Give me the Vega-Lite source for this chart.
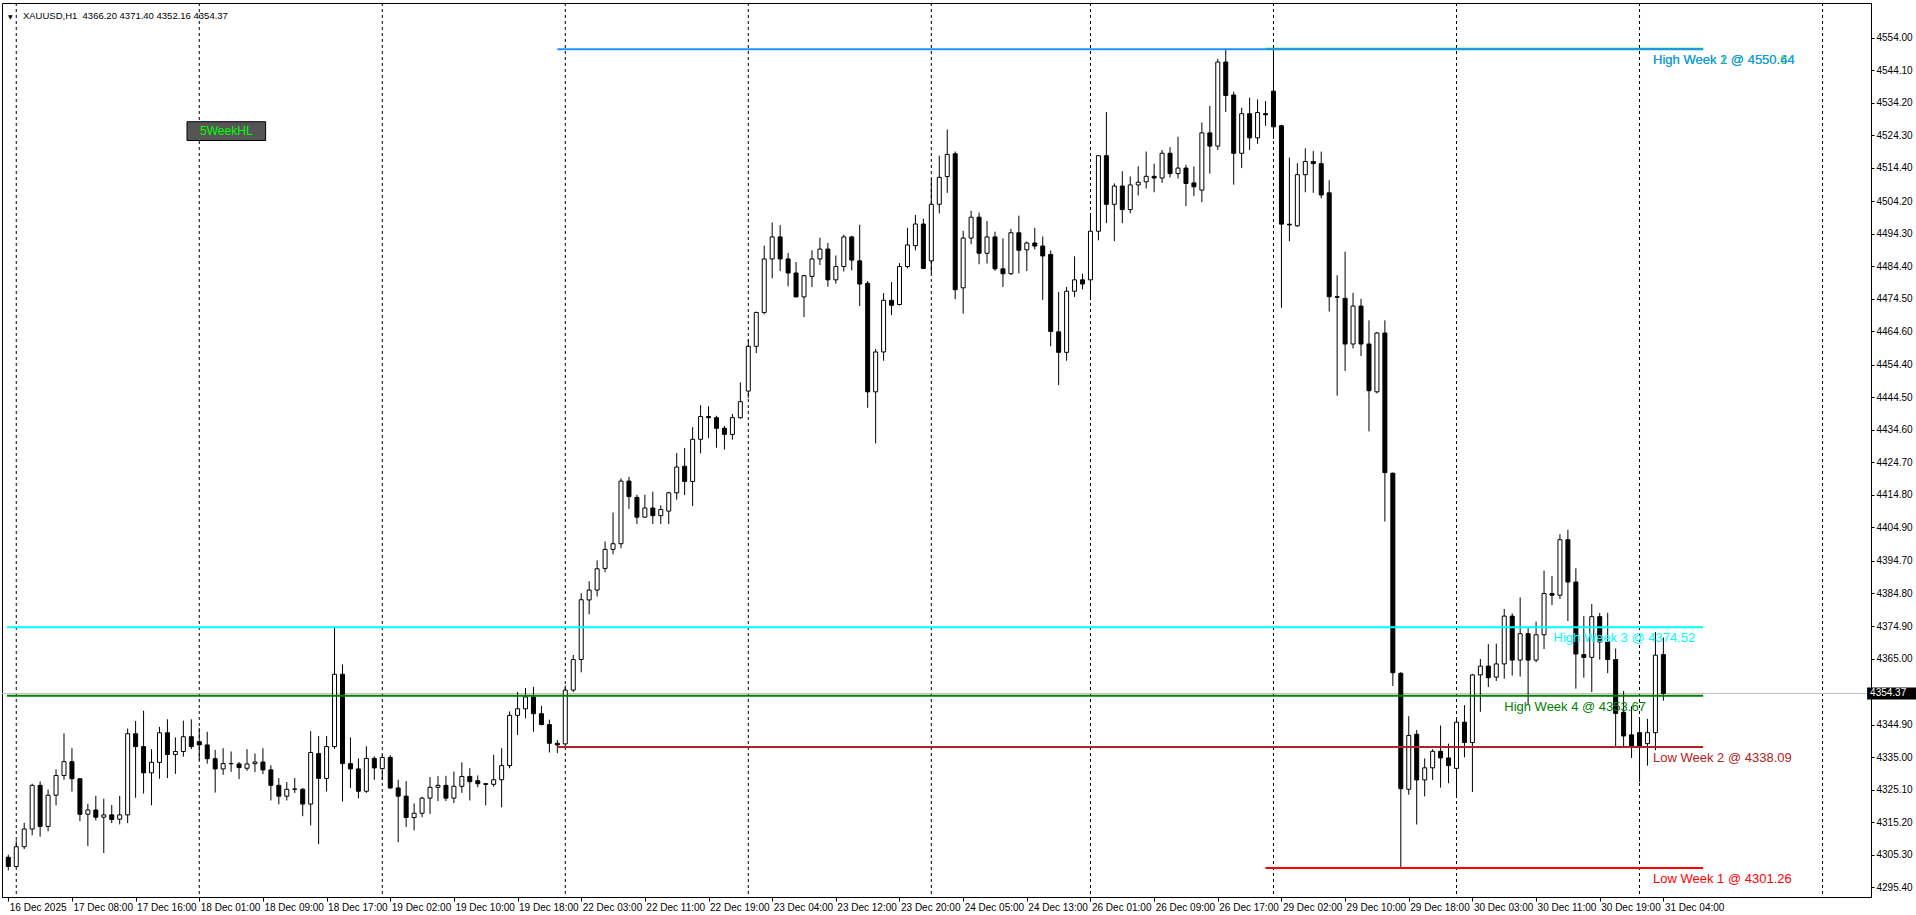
{
  "$schema": "https://vega.github.io/schema/vega-lite/v6.json",
  "width": 1869,
  "height": 894,
  "autosize": {"type": "none"},
  "padding": {"left": 2, "top": 3, "right": 45, "bottom": 18},
  "background": "white",
  "config": {
    "view": {"stroke": "black", "strokeWidth": 1},
    "axis": {
      "domainColor": "black",
      "tickColor": "black",
      "labelColor": "black",
      "labelFont": "Liberation Sans",
      "labelFontSize": 10,
      "grid": false,
      "title": null,
      "labelOverlap": false,
      "labelFlush": false,
      "labelBound": false
    }
  },
  "datasets": {
    "candles": [
      {"i":0,"o":4304.5,"h":4305.3,"l":4300.5,"c":4301.7},
      {"i":1,"o":4301.7,"h":4309.7,"l":4301.5,"c":4307.7},
      {"i":2,"o":4307.7,"h":4315.0,"l":4307.0,"c":4313.1},
      {"i":3,"o":4313.1,"h":4326.9,"l":4311.2,"c":4326.4},
      {"i":4,"o":4326.4,"h":4327.6,"l":4310.8,"c":4313.9},
      {"i":5,"o":4313.9,"h":4325.1,"l":4312.4,"c":4323.4},
      {"i":6,"o":4323.4,"h":4331.3,"l":4320.3,"c":4329.4},
      {"i":7,"o":4329.4,"h":4342.2,"l":4328.1,"c":4333.6},
      {"i":8,"o":4333.6,"h":4337.7,"l":4324.5,"c":4328.4},
      {"i":9,"o":4328.4,"h":4328.5,"l":4315.5,"c":4317.6},
      {"i":10,"o":4317.6,"h":4320.8,"l":4307.9,"c":4318.9},
      {"i":11,"o":4318.9,"h":4323.2,"l":4315.7,"c":4316.7},
      {"i":12,"o":4316.7,"h":4322.3,"l":4305.8,"c":4317.4},
      {"i":13,"o":4317.4,"h":4320.4,"l":4314.9,"c":4316.0},
      {"i":14,"o":4316.1,"h":4323.2,"l":4314.5,"c":4317.4},
      {"i":15,"o":4317.4,"h":4343.7,"l":4314.9,"c":4342.1},
      {"i":16,"o":4342.1,"h":4346.0,"l":4322.6,"c":4338.2},
      {"i":17,"o":4338.2,"h":4349.1,"l":4323.9,"c":4330.2},
      {"i":18,"o":4330.2,"h":4337.4,"l":4320.3,"c":4333.4},
      {"i":19,"o":4333.4,"h":4344.2,"l":4328.4,"c":4342.4},
      {"i":20,"o":4342.4,"h":4346.5,"l":4328.6,"c":4335.8},
      {"i":21,"o":4335.8,"h":4341.0,"l":4329.9,"c":4336.7},
      {"i":22,"o":4336.7,"h":4346.1,"l":4335.1,"c":4341.2},
      {"i":23,"o":4341.2,"h":4346.5,"l":4337.4,"c":4338.2},
      {"i":24,"o":4339.7,"h":4343.9,"l":4334.1,"c":4338.7},
      {"i":25,"o":4338.7,"h":4342.7,"l":4333.0,"c":4334.5},
      {"i":26,"o":4334.5,"h":4337.2,"l":4324.2,"c":4331.4},
      {"i":27,"o":4331.4,"h":4337.7,"l":4329.6,"c":4333.0},
      {"i":28,"o":4333.0,"h":4336.7,"l":4330.5,"c":4333.0},
      {"i":29,"o":4332.9,"h":4333.5,"l":4328.3,"c":4331.8},
      {"i":30,"o":4331.6,"h":4337.4,"l":4330.8,"c":4332.9},
      {"i":31,"o":4333.0,"h":4336.1,"l":4330.4,"c":4333.5},
      {"i":32,"o":4333.5,"h":4337.7,"l":4329.8,"c":4331.1},
      {"i":33,"o":4331.1,"h":4332.5,"l":4321.8,"c":4326.4},
      {"i":34,"o":4326.4,"h":4328.6,"l":4320.6,"c":4323.1},
      {"i":35,"o":4323.1,"h":4327.4,"l":4321.8,"c":4325.2},
      {"i":36,"o":4325.2,"h":4328.6,"l":4324.1,"c":4325.3},
      {"i":37,"o":4325.2,"h":4325.6,"l":4317.0,"c":4320.7},
      {"i":38,"o":4320.7,"h":4342.9,"l":4314.2,"c":4336.4},
      {"i":39,"o":4336.1,"h":4341.4,"l":4308.5,"c":4328.5},
      {"i":40,"o":4328.5,"h":4341.4,"l":4324.5,"c":4338.2},
      {"i":41,"o":4338.2,"h":4374.52,"l":4337.5,"c":4360.2},
      {"i":42,"o":4360.2,"h":4363.2,"l":4321.5,"c":4333.0},
      {"i":43,"o":4333.0,"h":4341.0,"l":4325.6,"c":4331.4},
      {"i":44,"o":4331.4,"h":4334.6,"l":4322.4,"c":4324.6},
      {"i":45,"o":4324.6,"h":4338.3,"l":4324.1,"c":4334.6},
      {"i":46,"o":4334.6,"h":4335.2,"l":4328.1,"c":4331.7},
      {"i":47,"o":4331.5,"h":4335.7,"l":4328.1,"c":4334.9},
      {"i":48,"o":4334.9,"h":4335.6,"l":4325.3,"c":4325.6},
      {"i":49,"o":4325.6,"h":4328.1,"l":4309.1,"c":4323.1},
      {"i":50,"o":4323.1,"h":4327.7,"l":4313.7,"c":4316.6},
      {"i":51,"o":4316.6,"h":4320.9,"l":4312.7,"c":4317.9},
      {"i":52,"o":4317.9,"h":4322.9,"l":4316.7,"c":4322.5},
      {"i":53,"o":4322.5,"h":4328.9,"l":4317.7,"c":4325.8},
      {"i":54,"o":4325.8,"h":4329.2,"l":4321.6,"c":4326.4},
      {"i":55,"o":4326.4,"h":4329.3,"l":4321.6,"c":4322.5},
      {"i":56,"o":4322.5,"h":4330.6,"l":4321.0,"c":4326.1},
      {"i":57,"o":4326.1,"h":4333.4,"l":4324.1,"c":4329.1},
      {"i":58,"o":4329.1,"h":4331.6,"l":4321.8,"c":4327.5},
      {"i":59,"o":4327.8,"h":4329.4,"l":4325.8,"c":4326.9},
      {"i":60,"o":4326.9,"h":4327.0,"l":4320.3,"c":4326.7},
      {"i":61,"o":4326.7,"h":4335.7,"l":4326.0,"c":4328.1},
      {"i":62,"o":4328.1,"h":4337.7,"l":4319.7,"c":4332.4},
      {"i":63,"o":4332.4,"h":4348.9,"l":4331.6,"c":4347.7},
      {"i":64,"o":4347.7,"h":4354.8,"l":4341.7,"c":4349.7},
      {"i":65,"o":4349.7,"h":4356.0,"l":4346.8,"c":4353.3},
      {"i":66,"o":4353.3,"h":4356.4,"l":4342.7,"c":4348.2},
      {"i":67,"o":4348.2,"h":4350.6,"l":4344.7,"c":4344.9},
      {"i":68,"o":4344.9,"h":4346.4,"l":4336.4,"c":4339.2},
      {"i":69,"o":4339.2,"h":4340.2,"l":4336.2,"c":4338.7},
      {"i":70,"o":4339.0,"h":4356.8,"l":4338.09,"c":4355.4},
      {"i":71,"o":4355.4,"h":4366.1,"l":4354.8,"c":4364.7},
      {"i":72,"o":4364.7,"h":4384.9,"l":4360.8,"c":4382.9},
      {"i":73,"o":4382.85,"h":4388.51,"l":4378.45,"c":4385.85},
      {"i":74,"o":4385.85,"h":4394.87,"l":4383.89,"c":4392.32},
      {"i":75,"o":4392.44,"h":4400.65,"l":4391.28,"c":4398.22},
      {"i":76,"o":4398.22,"h":4409.43,"l":4396.72,"c":4399.95},
      {"i":77,"o":4399.95,"h":4419.83,"l":4398.57,"c":4419.02},
      {"i":78,"o":4419.02,"h":4420.29,"l":4410.58,"c":4414.28},
      {"i":79,"o":4414.05,"h":4414.86,"l":4405.96,"c":4408.04},
      {"i":80,"o":4408.04,"h":4414.86,"l":4407.81,"c":4410.82},
      {"i":81,"o":4410.82,"h":4415.79,"l":4405.96,"c":4408.5},
      {"i":82,"o":4408.5,"h":4411.63,"l":4405.96,"c":4410.35},
      {"i":83,"o":4409.89,"h":4415.79,"l":4405.96,"c":4415.44},
      {"i":84,"o":4415.44,"h":4427.58,"l":4413.36,"c":4423.3},
      {"i":85,"o":4423.53,"h":4429.08,"l":4414.75,"c":4418.91},
      {"i":86,"o":4418.91,"h":4435.43,"l":4411.39,"c":4431.74},
      {"i":87,"o":4431.74,"h":4442.14,"l":4427.46,"c":4438.67},
      {"i":88,"o":4438.67,"h":4441.79,"l":4432.08,"c":4438.32},
      {"i":89,"o":4438.32,"h":4438.9,"l":4429.19,"c":4435.09},
      {"i":90,"o":4435.09,"h":4435.78,"l":4428.62,"c":4433.24},
      {"i":91,"o":4433.24,"h":4439.48,"l":4431.62,"c":4438.32},
      {"i":92,"o":4438.32,"h":4449.07,"l":4438.0,"c":4443.18},
      {"i":93,"o":4446.41,"h":4462.02,"l":4444.33,"c":4460.05},
      {"i":94,"o":4460.05,"h":4470.6,"l":4457.97,"c":4470.34},
      {"i":95,"o":4470.34,"h":4490.68,"l":4469.76,"c":4486.64},
      {"i":96,"o":4486.64,"h":4497.73,"l":4480.74,"c":4493.34},
      {"i":97,"o":4493.34,"h":4496.92,"l":4482.94,"c":4486.64},
      {"i":98,"o":4486.64,"h":4488.49,"l":4478.31,"c":4482.36},
      {"i":99,"o":4482.36,"h":4485.71,"l":4474.96,"c":4475.08},
      {"i":100,"o":4475.08,"h":4481.8,"l":4468.95,"c":4481.55},
      {"i":101,"o":4481.32,"h":4489.29,"l":4478.08,"c":4486.64},
      {"i":102,"o":4486.64,"h":4493.11,"l":4484.79,"c":4489.64},
      {"i":103,"o":4489.64,"h":4491.49,"l":4478.2,"c":4480.28},
      {"i":104,"o":4480.28,"h":4487.68,"l":4479.12,"c":4484.33},
      {"i":105,"o":4484.33,"h":4494.03,"l":4482.82,"c":4493.34},
      {"i":106,"o":4493.34,"h":4493.69,"l":4483.17,"c":4486.29},
      {"i":107,"o":4486.06,"h":4497.04,"l":4472.3,"c":4479.01},
      {"i":108,"o":4479.24,"h":4479.93,"l":4441.33,"c":4446.18},
      {"i":109,"o":4446.18,"h":4459.24,"l":4430.47,"c":4458.32},
      {"i":110,"o":4458.32,"h":4476.23,"l":4455.66,"c":4474.04},
      {"i":111,"o":4474.04,"h":4479.59,"l":4469.53,"c":4472.54},
      {"i":112,"o":4472.77,"h":4485.37,"l":4472.5,"c":4484.33},
      {"i":113,"o":4484.33,"h":4496.11,"l":4483.75,"c":4490.91},
      {"i":114,"o":4490.68,"h":4500.04,"l":4489.29,"c":4497.27},
      {"i":115,"o":4497.27,"h":4498.89,"l":4483.52,"c":4483.75},
      {"i":116,"o":4486.06,"h":4510.91,"l":4482.25,"c":4503.28},
      {"i":117,"o":4503.28,"h":4518.07,"l":4500.51,"c":4511.49},
      {"i":118,"o":4511.72,"h":4526.05,"l":4506.75,"c":4518.42},
      {"i":119,"o":4518.65,"h":4519.35,"l":4474.39,"c":4477.28},
      {"i":120,"o":4477.85,"h":4495.19,"l":4469.99,"c":4492.99},
      {"i":121,"o":4492.99,"h":4501.32,"l":4491.14,"c":4499.35},
      {"i":122,"o":4499.35,"h":4500.74,"l":4485.02,"c":4488.37},
      {"i":123,"o":4488.37,"h":4498.19,"l":4485.25,"c":4493.34},
      {"i":124,"o":4493.34,"h":4494.96,"l":4483.05,"c":4483.63},
      {"i":125,"o":4483.63,"h":4492.88,"l":4478.08,"c":4482.13},
      {"i":126,"o":4482.13,"h":4495.77,"l":4481.78,"c":4494.61},
      {"i":127,"o":4494.61,"h":4499.81,"l":4482.25,"c":4489.29},
      {"i":128,"o":4489.41,"h":4491.95,"l":4482.94,"c":4491.49},
      {"i":129,"o":4491.49,"h":4496.11,"l":4489.53,"c":4490.57},
      {"i":130,"o":4490.57,"h":4493.46,"l":4474.15,"c":4487.56},
      {"i":131,"o":4488.02,"h":4489.18,"l":4460.05,"c":4464.56},
      {"i":132,"o":4464.45,"h":4476.58,"l":4448.26,"c":4458.2},
      {"i":133,"o":4458.2,"h":4478.08,"l":4455.66,"c":4476.81},
      {"i":134,"o":4476.81,"h":4487.45,"l":4475.08,"c":4480.28},
      {"i":135,"o":4480.28,"h":4482.13,"l":4477.39,"c":4479.01},
      {"i":136,"o":4480.28,"h":4500.39,"l":4474.15,"c":4495.07},
      {"i":137,"o":4495.07,"h":4518.2,"l":4492.3,"c":4518.07},
      {"i":138,"o":4518.07,"h":4531.37,"l":4497.5,"c":4503.28},
      {"i":139,"o":4503.28,"h":4509.64,"l":4492.07,"c":4508.83},
      {"i":140,"o":4508.83,"h":4513.34,"l":4497.5,"c":4501.66},
      {"i":141,"o":4501.66,"h":4511.72,"l":4500.51,"c":4509.17},
      {"i":142,"o":4509.17,"h":4514.84,"l":4505.94,"c":4509.98},
      {"i":143,"o":4510.11,"h":4519.32,"l":4508.1,"c":4511.79},
      {"i":144,"o":4511.79,"h":4515.64,"l":4506.93,"c":4511.28},
      {"i":145,"o":4511.28,"h":4519.82,"l":4509.78,"c":4518.81},
      {"i":146,"o":4518.81,"h":4520.66,"l":4511.45,"c":4512.62},
      {"i":147,"o":4512.62,"h":4523.83,"l":4511.12,"c":4514.3},
      {"i":148,"o":4514.3,"h":4515.3,"l":4502.75,"c":4509.61},
      {"i":149,"o":4509.78,"h":4514.8,"l":4505.76,"c":4508.61},
      {"i":150,"o":4507.6,"h":4528.19,"l":4503.92,"c":4525.01},
      {"i":151,"o":4525.01,"h":4533.21,"l":4512.62,"c":4520.99},
      {"i":152,"o":4520.99,"h":4547.6,"l":4519.82,"c":4546.59},
      {"i":153,"o":4546.59,"h":4550.44,"l":4531.36,"c":4536.39},
      {"i":154,"o":4536.55,"h":4537.56,"l":4509.28,"c":4518.81},
      {"i":155,"o":4518.81,"h":4532.7,"l":4514.3,"c":4530.86},
      {"i":156,"o":4530.86,"h":4535.72,"l":4519.82,"c":4523.5},
      {"i":157,"o":4523.5,"h":4535.21,"l":4521.66,"c":4531.2},
      {"i":158,"o":4530.86,"h":4534.71,"l":4527.18,"c":4530.53},
      {"i":159,"o":4537.72,"h":4550.64,"l":4523.17,"c":4526.85},
      {"i":160,"o":4527.18,"h":4527.5,"l":4471.79,"c":4497.23},
      {"i":161,"o":4497.23,"h":4517.48,"l":4492.04,"c":4497.0},
      {"i":162,"o":4496.73,"h":4515.8,"l":4496.39,"c":4512.29},
      {"i":163,"o":4512.29,"h":4520.32,"l":4506.93,"c":4516.3},
      {"i":164,"o":4516.3,"h":4519.48,"l":4506.77,"c":4515.64},
      {"i":165,"o":4515.64,"h":4519.32,"l":4505.09,"c":4506.1},
      {"i":166,"o":4506.77,"h":4510.61,"l":4470.62,"c":4475.14},
      {"i":167,"o":4475.14,"h":4481.66,"l":4445.02,"c":4474.97},
      {"i":168,"o":4474.64,"h":4488.86,"l":4452.55,"c":4460.75},
      {"i":169,"o":4460.75,"h":4476.31,"l":4459.41,"c":4472.29},
      {"i":170,"o":4472.29,"h":4474.47,"l":4457.07,"c":4460.75},
      {"i":171,"o":4460.75,"h":4467.94,"l":4434.14,"c":4446.52},
      {"i":172,"o":4446.19,"h":4464.43,"l":4445.69,"c":4464.09},
      {"i":173,"o":4464.09,"h":4467.94,"l":4406.7,"c":4421.59},
      {"i":174,"o":4421.42,"h":4421.6,"l":4356.66,"c":4360.68},
      {"i":175,"o":4360.51,"h":4360.85,"l":4301.26,"c":4325.37},
      {"i":176,"o":4325.2,"h":4347.46,"l":4323.53,"c":4341.6},
      {"i":177,"o":4341.94,"h":4343.27,"l":4314.49,"c":4328.05},
      {"i":178,"o":4328.05,"h":4334.57,"l":4323.03,"c":4331.73},
      {"i":179,"o":4331.73,"h":4337.42,"l":4328.05,"c":4336.75},
      {"i":180,"o":4336.75,"h":4344.62,"l":4325.7,"c":4334.74},
      {"i":181,"o":4334.74,"h":4339.09,"l":4327.04,"c":4332.4},
      {"i":182,"o":4331.56,"h":4346.79,"l":4323.03,"c":4345.62},
      {"i":183,"o":4345.62,"h":4350.81,"l":4334.91,"c":4339.43},
      {"i":184,"o":4339.43,"h":4360.34,"l":4324.37,"c":4360.01},
      {"i":185,"o":4360.01,"h":4364.86,"l":4348.8,"c":4362.69},
      {"i":186,"o":4362.69,"h":4369.38,"l":4356.33,"c":4359.17},
      {"i":187,"o":4359.34,"h":4369.55,"l":4358.17,"c":4363.36},
      {"i":188,"o":4363.36,"h":4380.09,"l":4358.84,"c":4377.91},
      {"i":189,"o":4377.91,"h":4378.75,"l":4359.84,"c":4364.53},
      {"i":190,"o":4364.53,"h":4383.6,"l":4359.51,"c":4372.56},
      {"i":191,"o":4372.56,"h":4374.23,"l":4350.81,"c":4364.53},
      {"i":192,"o":4364.53,"h":4376.24,"l":4363.86,"c":4372.23},
      {"i":193,"o":4372.23,"h":4391.8,"l":4367.87,"c":4384.78},
      {"i":194,"o":4384.78,"h":4390.13,"l":4381.26,"c":4384.27},
      {"i":195,"o":4384.27,"h":4402.85,"l":4383.1,"c":4401.17},
      {"i":196,"o":4401.17,"h":4404.19,"l":4376.41,"c":4388.29},
      {"i":197,"o":4388.29,"h":4392.47,"l":4355.83,"c":4366.37},
      {"i":198,"o":4366.2,"h":4377.91,"l":4359.17,"c":4365.36},
      {"i":199,"o":4365.36,"h":4381.6,"l":4354.82,"c":4377.75},
      {"i":200,"o":4377.75,"h":4378.92,"l":4364.69,"c":4370.05},
      {"i":201,"o":4370.05,"h":4378.92,"l":4360.51,"c":4364.69},
      {"i":202,"o":4364.69,"h":4368.04,"l":4338.25,"c":4348.3},
      {"i":203,"o":4348.63,"h":4355.16,"l":4338.25,"c":4341.43},
      {"i":204,"o":4341.77,"h":4350.47,"l":4334.74,"c":4338.25},
      {"i":205,"o":4342.44,"h":4346.45,"l":4327.38,"c":4338.25},
      {"i":206,"o":4339.09,"h":4346.62,"l":4332.4,"c":4342.44},
      {"i":207,"o":4342.44,"h":4373.06,"l":4337.08,"c":4366.03},
      {"i":208,"o":4366.2,"h":4371.4,"l":4352.16,"c":4354.37}
    ],
    "days": [{"i":1},{"i":24},{"i":47},{"i":70},{"i":93},{"i":116},{"i":136},{"i":159},{"i":182},{"i":205},{"i":228}],
    "levels": [
      {"name":"High Week 4","price":4353.67,"x1":-0.16,"x2":213,"lx":188,"label":"High Week 4 @ 4353.67"},
      {"name":"High Week 3","price":4374.52,"x1":-0.16,"x2":213,"lx":194.2,"label":"High Week 3 @ 4374.52"},
      {"name":"Low Week 2","price":4338.09,"x1":69,"x2":213,"lx":206.7,"label":"Low Week 2 @ 4338.09"},
      {"name":"Low Week 1","price":4301.26,"x1":158,"x2":213,"lx":206.7,"label":"Low Week 1 @ 4301.26"},
      {"name":"High Week 1","price":4550.64,"x1":158,"x2":213,"lx":206.7,"label":"High Week 1 @ 4550.64"},
      {"name":"High Week 2","price":4550.44,"x1":69,"x2":213,"lx":206.7,"label":"High Week 2 @ 4550.44"}
    ],
    "quote": [{"symbol":"XAUUSD","period":"H1","o":4366.2,"h":4371.4,"l":4352.16,"c":4354.37,"header":"XAUUSD,H1\u00a0\u00a04366.20 4371.40 4352.16 4354.37"}],
    "buttons": [{"label":"5WeekHL"}]
  },
  "layer": [
    {
      "data": {"name": "days"},
      "mark": {"type": "rule", "color": "black", "strokeWidth": 1, "strokeDash": [3, 3]},
      "encoding": {
        "x": {
          "field": "i", "type": "quantitative",
          "scale": {"domain": [-0.1625, 233.4625], "nice": false, "zero": false},
          "axis": {
            "orient": "bottom",
            "values": [0,8,16,24,32,40,48,56,64,72,80,88,96,104,112,120,128,136,144,152,160,168,176,184,192,200,208],
            "tickCount": 60,
            "labelExpr": "['16 Dec 2025','17 Dec 08:00','17 Dec 16:00','18 Dec 01:00','18 Dec 09:00','18 Dec 17:00','19 Dec 02:00','19 Dec 10:00','19 Dec 18:00','22 Dec 03:00','22 Dec 11:00','22 Dec 19:00','23 Dec 04:00','23 Dec 12:00','23 Dec 20:00','24 Dec 05:00','24 Dec 13:00','26 Dec 01:00','26 Dec 09:00','26 Dec 17:00','29 Dec 02:00','29 Dec 10:00','29 Dec 18:00','30 Dec 03:00','30 Dec 11:00','30 Dec 19:00','31 Dec 04:00'][round(datum.value / 8)]",
            "labelAlign": "left",
            "labelBaseline": "top",
            "labelOffset": 1,
            "labelPadding": 1,
            "tickSize": 4,
            "labelOverlap": false,
            "labelFlush": false,
            "labelBound": false
          }
        }
      }
    },
    {
      "data": {"name": "quote"},
      "mark": {"type": "rule", "color": "#C0C0C0", "strokeWidth": 1},
      "encoding": {
        "y": {
          "field": "c", "type": "quantitative",
          "scale": {"domain": [4293.93, 4563.03], "nice": false, "zero": false},
          "axis": {
            "orient": "right",
            "values": [4554.0,4544.1,4534.2,4524.3,4514.4,4504.2,4494.3,4484.4,4474.5,4464.6,4454.4,4444.5,4434.6,4424.7,4414.8,4404.9,4394.7,4384.8,4374.9,4365.0,4344.9,4335.0,4325.1,4315.2,4305.3,4295.4],
            "tickCount": 60,
            "format": ".2f",
            "tickSize": 3,
            "labelPadding": 2,
            "labelBaseline": "middle",
            "labelOverlap": false,
            "labelFlush": false,
            "labelBound": false
          }
        }
      }
    },
    {
      "data": {"name": "candles"},
      "mark": {"type": "rule", "color": "black", "strokeWidth": 1},
      "encoding": {
        "x": {"field": "i", "type": "quantitative"},
        "y": {"field": "l", "type": "quantitative"},
        "y2": {"field": "h"}
      }
    },
    {
      "data": {"name": "candles"},
      "mark": {"type": "bar", "width": 4, "stroke": "black", "strokeWidth": 1},
      "encoding": {
        "x": {"field": "i", "type": "quantitative"},
        "y": {"field": "o", "type": "quantitative"},
        "y2": {"field": "c"},
        "fill": {"condition": {"test": "datum.c >= datum.o", "value": "white"}, "value": "black"}
      }
    },
    {
      "data": {"name": "levels"},
      "mark": {"type": "rule", "strokeWidth": 2},
      "encoding": {
        "x": {"field": "x1", "type": "quantitative"},
        "x2": {"field": "x2"},
        "y": {"field": "price", "type": "quantitative"},
        "color": {
          "field": "name", "type": "nominal", "legend": null,
          "scale": {
            "domain": ["High Week 1","High Week 2","High Week 3","High Week 4","Low Week 1","Low Week 2"],
            "range": ["#00E000","#1E90FF","#00FFFF","#008000","#FF0000","#B22222"]
          }
        }
      }
    },
    {
      "data": {"name": "levels"},
      "mark": {"type": "text", "align": "left", "baseline": "middle", "dy": 11, "font": "Liberation Sans", "fontSize": 13},
      "encoding": {
        "x": {"field": "lx", "type": "quantitative"},
        "y": {"field": "price", "type": "quantitative"},
        "text": {"field": "label"},
        "color": {"field": "name", "type": "nominal", "legend": null}
      }
    },
    {
      "data": {"name": "quote"},
      "mark": {"type": "bar", "height": 12, "color": "black", "clip": false},
      "encoding": {
        "x": {"datum": 233.6, "type": "quantitative"},
        "x2": {"datum": 240},
        "y": {"field": "c", "type": "quantitative"}
      }
    },
    {
      "data": {"name": "quote"},
      "mark": {"type": "text", "align": "left", "baseline": "middle", "dx": 3, "color": "white", "font": "Liberation Sans", "fontSize": 10, "clip": false},
      "encoding": {
        "x": {"datum": 233.6, "type": "quantitative"},
        "y": {"field": "c", "type": "quantitative"},
        "text": {"field": "c", "format": ".2f"}
      }
    },
    {
      "data": {"name": "quote"},
      "mark": {"type": "text", "align": "center", "baseline": "middle", "color": "black", "font": "DejaVu Sans", "fontSize": 6},
      "encoding": {
        "x": {"datum": 0.25, "type": "quantitative"},
        "y": {"datum": 4560.2, "type": "quantitative"},
        "text": {"value": "▼"}
      }
    },
    {
      "data": {"name": "quote"},
      "mark": {"type": "text", "align": "left", "baseline": "middle", "color": "black", "font": "Liberation Sans", "fontSize": 9.5},
      "encoding": {
        "x": {"datum": 1.84, "type": "quantitative"},
        "y": {"datum": 4560.6, "type": "quantitative"},
        "text": {"field": "header"}
      }
    },
    {
      "data": {"name": "buttons"},
      "mark": {"type": "rect", "color": "#555555", "stroke": "black", "strokeWidth": 1},
      "encoding": {
        "x": {"datum": 22.46, "type": "quantitative"},
        "x2": {"datum": 32.34},
        "y": {"datum": 4528.41, "type": "quantitative"},
        "y2": {"datum": 4522.69}
      }
    },
    {
      "data": {"name": "buttons"},
      "mark": {"type": "text", "align": "center", "baseline": "middle", "color": "#00FF00", "font": "Liberation Sans", "fontSize": 12},
      "encoding": {
        "x": {"datum": 27.4, "type": "quantitative"},
        "y": {"datum": 4525.55, "type": "quantitative"},
        "text": {"field": "label"}
      }
    }
  ]
}
